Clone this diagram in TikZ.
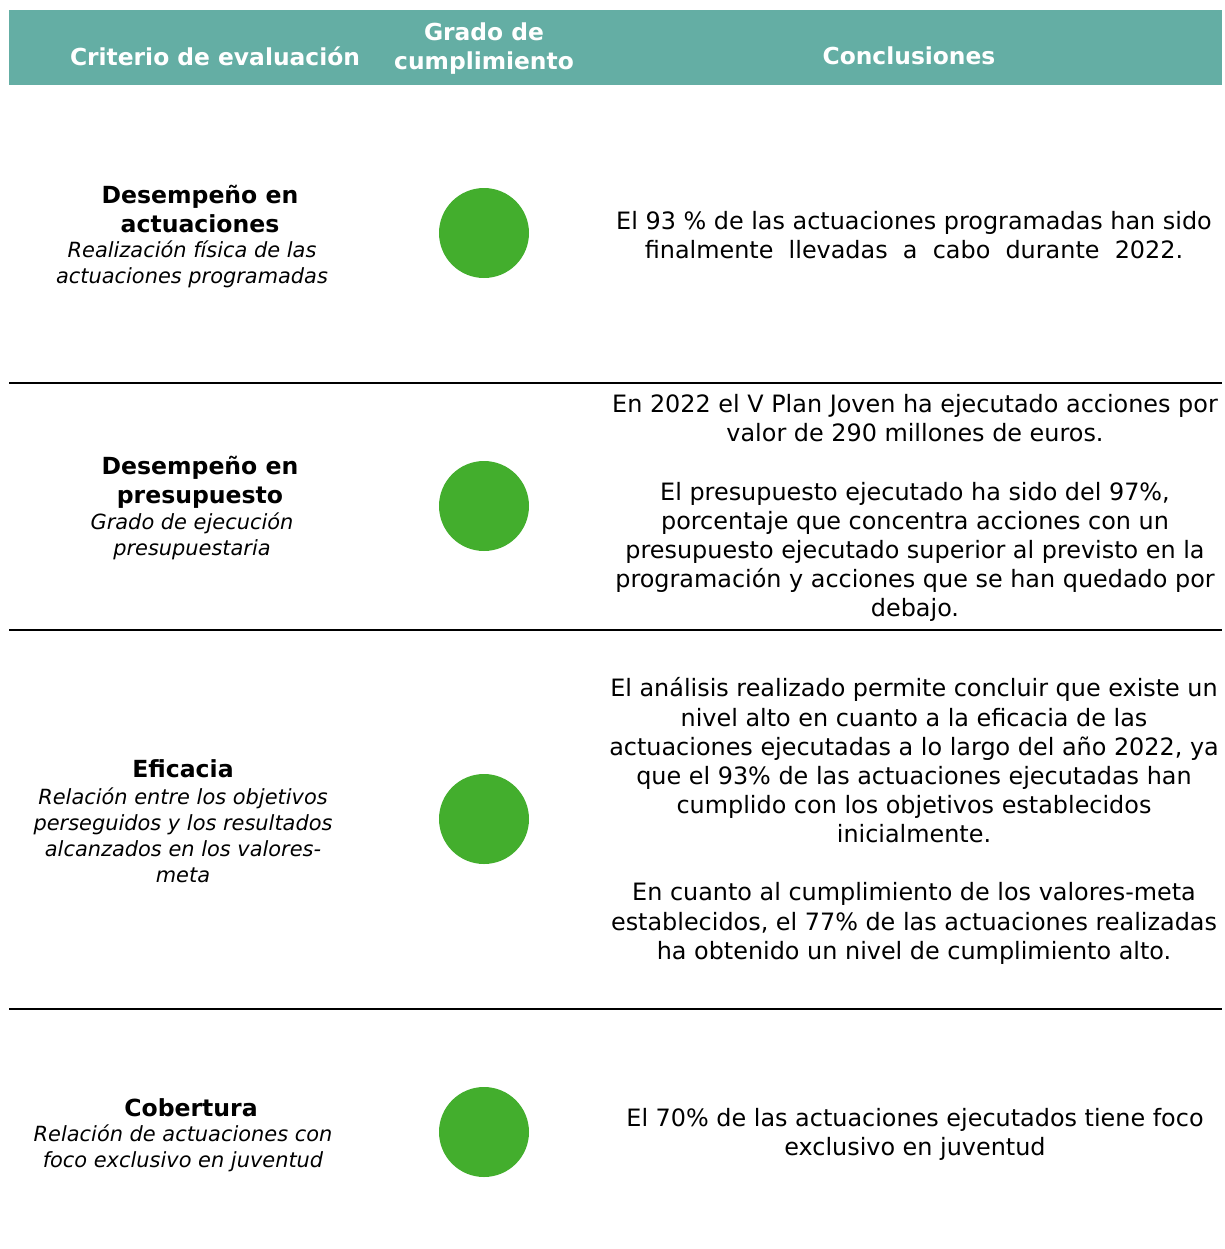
\documentclass[tikz,border=0pt]{standalone}
\usepackage{fontspec}
\setmainfont{DejaVu Sans}
\usepackage{tikz}
\definecolor{verdeagua}{HTML}{64AEA4}
\definecolor{verdepunto}{HTML}{43AE2D}
\tikzstyle{cabecera} = [font=\bfseries\fontsize{13.3}{16.5}\selectfont, text=white, align=center]
\tikzstyle{criterio} = [font=\bfseries\fontsize{13.4}{16.5}\selectfont, align=center, inner sep=0pt]
\tikzstyle{detalle} = [font=\itshape\fontsize{11.9}{14.8}\selectfont, align=center, inner sep=0pt]
\tikzstyle{conclusion} = [font=\fontsize{13.6}{16.6}\selectfont, align=center, inner sep=0pt]
\tikzstyle{punto} = [circle, fill=verdepunto, minimum size=90\pxu, inner sep=0pt]
\tikzstyle{separador} = [line width=1.5pt]
\newlength{\pxu}
\setlength{\pxu}{0.02cm}

\begin{document}
\begin{tikzpicture}[x=0.02cm, y=-0.02cm]

        \useasboundingbox (0,0) rectangle (1225,1249);

        % cabecera
        \fill[verdeagua] (9,10) rectangle (1222,85);
        \node (C1) [cabecera] at (215,56) {Criterio de evaluación};
        \node (C2) [cabecera] at (484,49) {Grado de\\cumplimiento};
        \node (C3) [cabecera] at (909,56) {Conclusiones};

        % fila 1
        \node (T1) [criterio] at (200,209) {Desempeño en\\actuaciones};
        \node (D1) [detalle] at (192,264) {Realización física de las\\actuaciones programadas};
        \node (P1) [punto] at (484,233) {};
        \node (K1) [conclusion] at (914,235) {El 93 \% de las actuaciones programadas han sido\\finalmente\ \ llevadas\ \ a\ \ cabo\ \ durante\ \ 2022.};

        \draw[separador] (9,383) -- (1222,383);

        % fila 2
        \node (T2) [criterio] at (200,482) {Desempeño en\\presupuesto};
        \node (D2) [detalle] at (192,536) {Grado de ejecución\\presupuestaria};
        \node (P2) [punto] at (484,506) {};
        \node (K2) [conclusion] at (915,508) {En 2022 el V Plan Joven ha ejecutado acciones por\\valor de 290 millones de euros.\\[16.6pt]
            El presupuesto ejecutado ha sido del 97\%,\\porcentaje que concentra acciones con un\\presupuesto ejecutado superior al previsto en la\\programación y acciones que se han quedado por\\debajo.};

        \draw[separador] (9,630) -- (1222,630);

        % fila 3
        \node (T3) [criterio] at (183,769) {Eficacia};
        \node (D3) [detalle] at (183,835) {Relación entre los objetivos\\perseguidos y los resultados\\alcanzados en los valores-\\meta};
        \node (P3) [punto] at (484,819) {};
        \node (K3) [conclusion] at (914,821) {El análisis realizado permite concluir que existe un\\nivel alto en cuanto a la eficacia de las\\actuaciones ejecutadas a lo largo del año 2022, ya\\que el 93\% de las actuaciones ejecutadas han\\cumplido con los objetivos establecidos\\inicialmente.\\[16.6pt]
            En cuanto al cumplimiento de los valores-meta\\establecidos, el 77\% de las actuaciones realizadas\\ha obtenido un nivel de cumplimiento alto.};

        \draw[separador] (9,1009) -- (1222,1009);

        % fila 4
        \node (T4) [criterio] at (191,1108) {Cobertura};
        \node (D4) [detalle] at (183,1148) {Relación de actuaciones con\\foco exclusivo en juventud};
        \node (P4) [punto] at (484,1132) {};
        \node (K4) [conclusion] at (915,1134) {El 70\% de las actuaciones ejecutados tiene foco\\exclusivo en juventud};

    \end{tikzpicture}
\end{document}
